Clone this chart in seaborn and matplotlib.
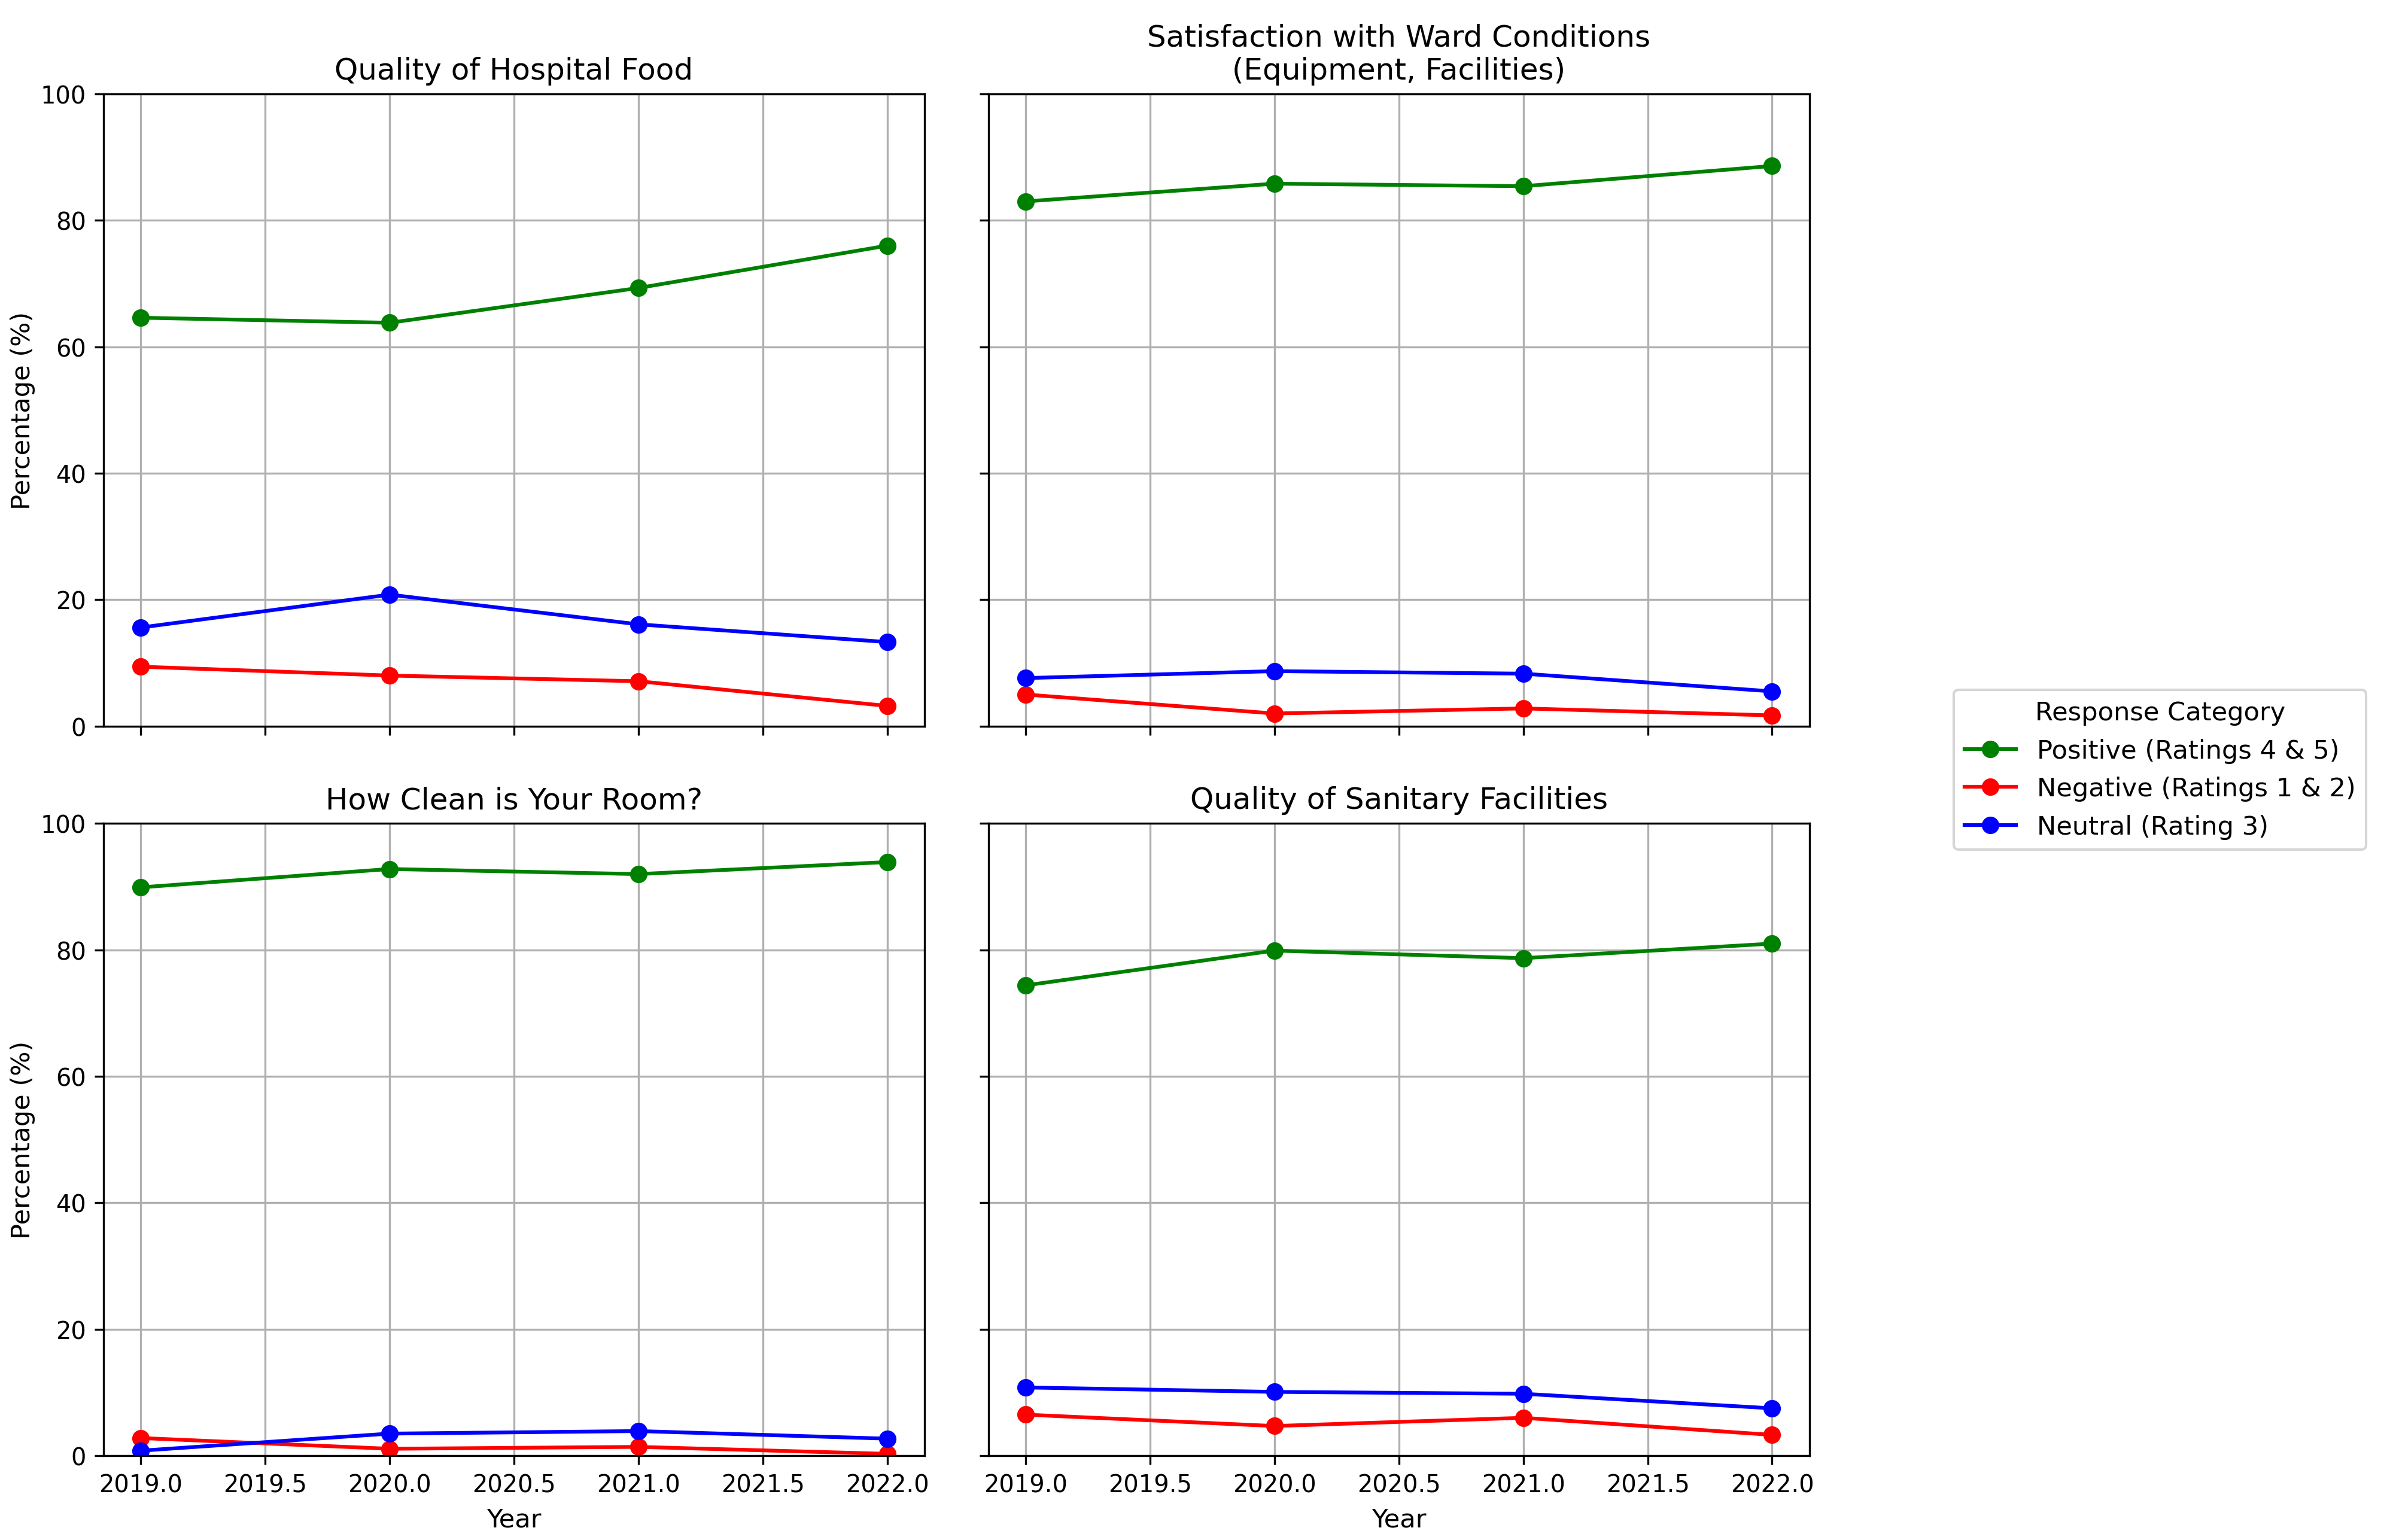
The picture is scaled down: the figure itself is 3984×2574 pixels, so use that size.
import matplotlib
matplotlib.use("Agg")
import matplotlib.pyplot as plt
import pandas as pd
import seaborn as sns


YEARS = [2019, 2020, 2021, 2022]

TITLES = [
    "Quality of Hospital Food",
    "Satisfaction with Ward Conditions\n(Equipment, Facilities)",
    "How Clean is Your Room?",
    "Quality of Sanitary Facilities",
]

CATEGORIES = ["Positive (Ratings 4 & 5)", "Negative (Ratings 1 & 2)", "Neutral (Rating 3)"]
COLORS = ["green", "red", "blue"]

# percentages, one list per category per question
food_pos = [64.6, 63.8, 69.3, 76.0]
food_neg = [9.4, 8.0, 7.1, 3.2]
food_neu = [15.6, 20.8, 16.1, 13.3]

ward_pos = [83.0, 85.8, 85.4, 88.6]
ward_neg = [5.0, 2.0, 2.8, 1.7]
ward_neu = [7.6, 8.7, 8.3, 5.5]

clean_pos = [89.9, 92.8, 92.0, 93.9]
clean_neg = [2.8, 1.1, 1.4, 0.3]
clean_neu = [0.8, 3.5, 3.9, 2.7]

sanit_pos = [74.4, 79.9, 78.7, 81.0]
sanit_neg = [6.5, 4.7, 6.0, 3.3]
sanit_neu = [10.8, 10.1, 9.8, 7.5]

PANELS = [
    (food_pos, food_neg, food_neu),
    (ward_pos, ward_neg, ward_neu),
    (clean_pos, clean_neg, clean_neu),
    (sanit_pos, sanit_neg, sanit_neu),
]


def build_frame(series):
    rows = []
    for cat, values in zip(CATEGORIES, series):
        for year, val in zip(YEARS, values):
            rows.append({"Year": year, "Percentage (%)": val, "Response Category": cat})
    return pd.DataFrame(rows)


def main():
    fig, axes = plt.subplots(2, 2, figsize=(13.28, 8.583), sharex=True, sharey=True)
    fig.subplots_adjust(left=0.0434, right=0.759, top=0.9387, bottom=0.0547,
                        wspace=0.0776, hspace=0.154)
    palette = dict(zip(CATEGORIES, COLORS))

    handles, labels = None, None
    for ax, title, series in zip(axes.flat, TITLES, PANELS):
        df = build_frame(series)
        sns.lineplot(
            data=df,
            x="Year",
            y="Percentage (%)",
            hue="Response Category",
            hue_order=CATEGORIES,
            palette=palette,
            marker="o",
            markersize=7,
            linewidth=1.5,
            ax=ax,
        )
        for line in ax.lines:
            line.set_markeredgecolor(line.get_color())
            line.set_markeredgewidth(0)
        if handles is None:
            handles, labels = ax.get_legend_handles_labels()
        ax.get_legend().remove()
        ax.set_title(title, fontsize=12)
        ax.set_xlabel("Year", fontsize=10.4)
        ax.set_ylabel("Percentage (%)", fontsize=10.4, labelpad=2)
        ax.tick_params(labelsize=9.6)
        ax.set_ylim(0, 100)
        ax.grid(True)

    fig.legend(
        handles,
        labels,
        title="Response Category",
        loc="center right",
        bbox_to_anchor=(0.998, 0.5),
        frameon=True,
        fontsize=10.4,
        title_fontsize=10.4,
    )
    fig.savefig("out.png", dpi=300)
    plt.close(fig)


if __name__ == "__main__":
    main()
